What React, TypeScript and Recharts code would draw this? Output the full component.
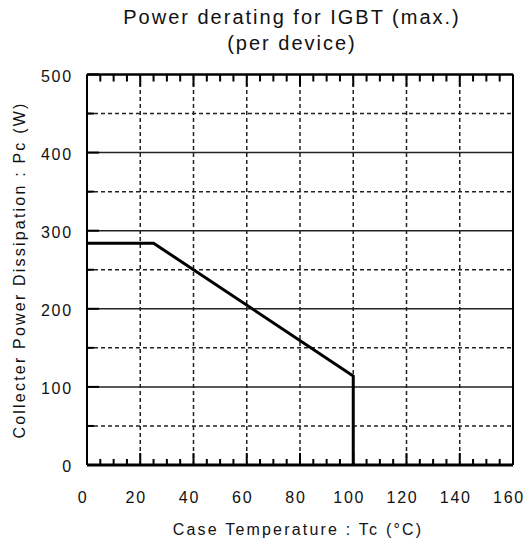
import React from "react";
import { LineChart, Line, XAxis, YAxis, ReferenceLine } from "recharts";

// curve points
const caseTempC = [0, 25, 100, 100];
const powerW = [284, 284, 114, 0];

const xMajorTicks = [0, 20, 40, 60, 80, 100, 120, 140, 160];
const xMinorTicks = [
  0, 5, 10, 15, 20, 25, 30, 35, 40, 45, 50, 55, 60, 65, 70, 75, 80, 85, 90,
  95, 100, 105, 110, 115, 120, 125, 130, 135, 140, 145, 150, 155, 160,
];
const yTicks = [0, 50, 100, 150, 200, 250, 300, 350, 400, 450, 500];
const yMajorTicks = [0, 100, 200, 300, 400, 500];

const xGrid = [20, 40, 60, 80, 100, 120, 140];
const yGridSolid = [100, 200, 300, 400];
const yGridDashed = [50, 150, 250, 350, 450];

const FONT = "'Liberation Sans', Arial, sans-serif";
const INK = "#000";
const GRID = "#222";

const data = caseTempC.map((t, i) => ({ t, p: powerW[i] }));

const BottomTick = (props: any) => {
  const { x, y, payload } = props;
  const v = payload.value;
  const major = xMajorTicks.includes(v);
  return (
    <g>
      <line x1={x} y1={y} x2={x} y2={y - (major ? 12 : 6)} stroke={INK} strokeWidth={2} />
      {major && (
        <text x={x - 4} y={y + 38} textAnchor="middle" fontFamily={FONT} fontSize={16}
          letterSpacing={1.8} fill="#111">
          {v}
        </text>
      )}
    </g>
  );
};

const TopTick = (props: any) => {
  const { x, y, payload } = props;
  const major = xMajorTicks.includes(payload.value);
  return <line x1={x} y1={y} x2={x} y2={y + (major ? 12 : 7)} stroke={INK} strokeWidth={2} />;
};

const LeftTick = (props: any) => {
  const { x, y, payload } = props;
  const v = payload.value;
  const major = yMajorTicks.includes(v);
  return (
    <g>
      <line x1={x} y1={y} x2={x + (major ? 12 : 7)} y2={y} stroke={INK} strokeWidth={2} />
      {major && (
        <text x={x - 14} y={y + 7} textAnchor="end" fontFamily={FONT} fontSize={16}
          letterSpacing={1.8} fill="#111">
          {v}
        </text>
      )}
    </g>
  );
};

const RightTick = (props: any) => {
  const { x, y, payload } = props;
  const major = yMajorTicks.includes(payload.value);
  return <line x1={x} y1={y} x2={x - (major ? 12 : 7)} y2={y} stroke={INK} strokeWidth={2} />;
};

export default function App() {
  return (
    <div style={{ position: "absolute", left: 0, top: 0, width: 527, height: 544, background: "#fff" }}>
      <div
        style={{
          position: "absolute", left: 0, top: 4, width: 584, textAlign: "center",
          fontFamily: FONT, fontSize: 20, letterSpacing: 2, lineHeight: "26px", color: "#111",
        }}
      >
        <div>Power derating for IGBT (max.)</div>
        <div>(per device)</div>
      </div>
      <LineChart
        width={527}
        height={544}
        data={data}
        margin={{ top: 73.5, right: 13, bottom: 78, left: 86 }}
      >
        <XAxis dataKey="t" type="number" domain={[0, 160]} ticks={xMinorTicks} interval={0}
          height={1} tickSize={0} tickMargin={0} axisLine={false} tickLine={false} tick={<BottomTick />} />
        <XAxis xAxisId="top" orientation="top" dataKey="t" type="number" domain={[0, 160]}
          ticks={xMinorTicks} interval={0} height={1} tickSize={0} tickMargin={0}
          axisLine={false} tickLine={false} tick={<TopTick />} />
        <YAxis type="number" domain={[0, 500]} ticks={yTicks} interval={0} width={1}
          tickSize={0} tickMargin={0} axisLine={false} tickLine={false} tick={<LeftTick />} />
        <YAxis yAxisId="right" orientation="right" type="number" domain={[0, 500]} ticks={yTicks}
          interval={0} width={1} tickSize={0} tickMargin={0} axisLine={false} tickLine={false}
          tick={<RightTick />} />

        {xGrid.map((v) => (
          <ReferenceLine key={"x" + v} x={v} stroke={GRID} strokeWidth={1.5} strokeDasharray="4 3" />
        ))}
        {yGridDashed.map((v) => (
          <ReferenceLine key={"yd" + v} y={v} stroke={GRID} strokeWidth={1.5} strokeDasharray="4 3" />
        ))}
        {yGridSolid.map((v) => (
          <ReferenceLine key={"ys" + v} y={v} stroke={GRID} strokeWidth={1.5} />
        ))}

        {/* frame */}
        <ReferenceLine x={0} stroke={INK} strokeWidth={2} />
        <ReferenceLine x={160} stroke={INK} strokeWidth={2} />
        <ReferenceLine y={500} stroke={INK} strokeWidth={2.5} />
        <ReferenceLine y={0} stroke={INK} strokeWidth={3} />

        <Line dataKey="p" type="linear" stroke={INK} strokeWidth={3} dot={false}
          isAnimationActive={false} strokeLinejoin="miter" />
      </LineChart>
      <div
        style={{
          position: "absolute", left: 0, top: 521, width: 596, textAlign: "center",
          fontFamily: FONT, fontSize: 16, letterSpacing: 2.2, color: "#111",
        }}
      >
        Case Temperature : Tc (°C)
      </div>
      <div
        style={{
          position: "absolute", left: 20, top: 270, width: 0, height: 0,
        }}
      >
        <div
          style={{
            position: "absolute", left: 0, top: 0, transform: "translate(-50%, -50%) rotate(-90deg)",
            whiteSpace: "nowrap", fontFamily: FONT, fontSize: 16, letterSpacing: 2.2, color: "#111",
          }}
        >
          Collecter Power Dissipation : Pc (W)
        </div>
      </div>
    </div>
  );
}
